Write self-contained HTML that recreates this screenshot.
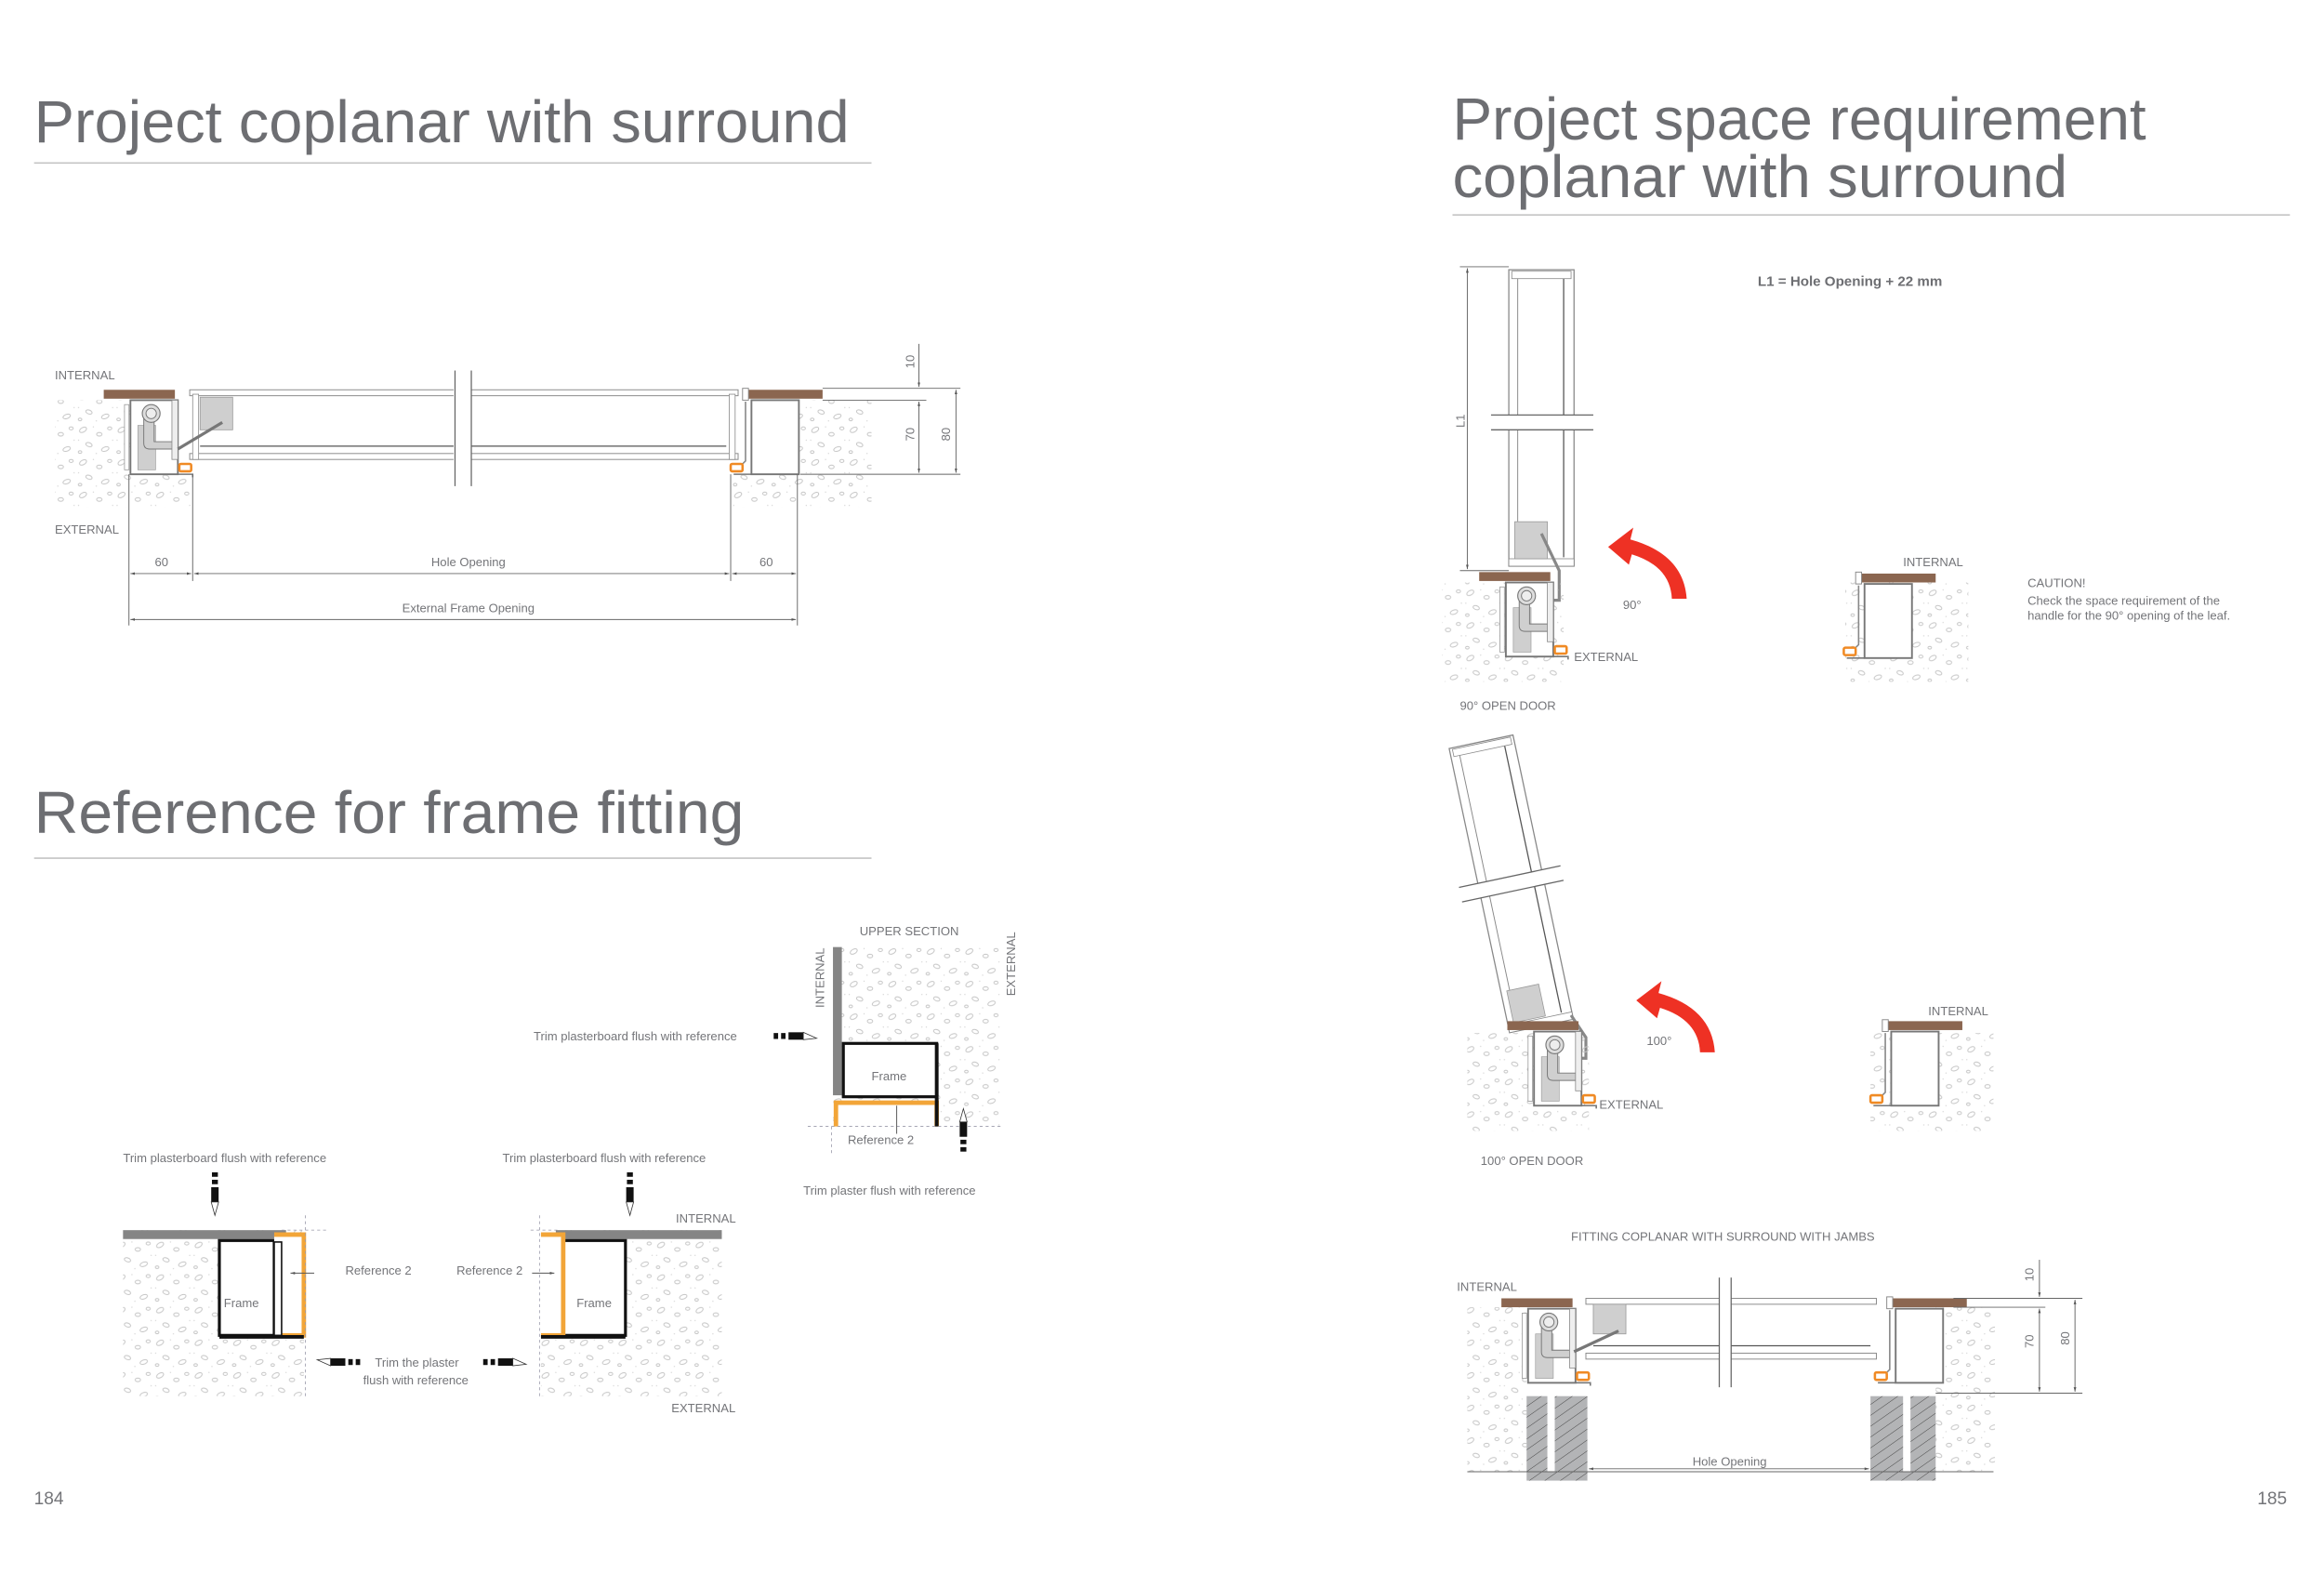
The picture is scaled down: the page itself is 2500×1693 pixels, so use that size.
<!DOCTYPE html>
<html><head><meta charset="utf-8"><style>
html,body{margin:0;padding:0;background:#fff}
svg{display:block}
text{font-family:"Liberation Sans",sans-serif;fill:#747579}
.t{font-size:8.2px}
.h{font-size:40px;fill:#6d6e72}
</style></head><body>
<svg width="2500" height="1693" viewBox="0 0 1568 1062" preserveAspectRatio="none" xmlns="http://www.w3.org/2000/svg">
<defs>
<pattern id="conc" width="26" height="22" patternUnits="userSpaceOnUse">
<g fill="none" stroke="#c4c4c4" stroke-width="0.6">
<ellipse cx="4" cy="4" rx="2.6" ry="1.5" transform="rotate(-30 4 4)"/>
<ellipse cx="15" cy="7" rx="1.8" ry="1.2"/>
<ellipse cx="22" cy="3" rx="1.4" ry="1"/>
<ellipse cx="8" cy="14" rx="2.2" ry="1.3" transform="rotate(20 8 14)"/>
<ellipse cx="19" cy="17" rx="2.6" ry="1.4" transform="rotate(-20 19 17)"/>
<ellipse cx="2" cy="19" rx="1.2" ry="0.9"/>
</g>
<g fill="#cfcfcf"><circle cx="11" cy="2" r="0.4"/><circle cx="24" cy="11" r="0.4"/><circle cx="13" cy="20" r="0.4"/><circle cx="1" cy="11" r="0.4"/></g>
</pattern>
<pattern id="hatch" width="6" height="6" patternUnits="userSpaceOnUse" patternTransform="rotate(55)">
<rect width="6" height="6" fill="#b3b4b6"/><line x1="0" y1="0" x2="0" y2="6" stroke="#444" stroke-width="0.6"/>
</pattern>
<g id="hingeL">
<rect x="-18" y="0" width="48" height="6" fill="#8b6650"/>
<rect x="0" y="7" width="32" height="50" fill="#fff" stroke="#777" stroke-width="1.2"/>
<rect x="-4" y="10" width="3" height="44" fill="#fff" stroke="#999" stroke-width="0.5"/>
<rect x="5" y="24" width="12" height="30" fill="#cfcfcf" stroke="#999" stroke-width="0.4"/>
<path d="M9 16 v20 q0 4 4 4 h16 v-5 h-13 v-14 z" fill="#cfcfcf" stroke="#777" stroke-width="0.6"/>
<circle cx="14" cy="16" r="6" fill="#ddd" stroke="#777" stroke-width="0.7"/>
<circle cx="14" cy="16" r="3.5" fill="#eee" stroke="#777" stroke-width="0.6"/>
<rect x="28" y="7" width="4" height="40" fill="#eee" stroke="#888" stroke-width="0.5"/>
<rect x="33" y="50" width="8" height="5" rx="1" fill="#fff" stroke="#f08a24" stroke-width="1.6"/>
<path d="M32 57 h10 v2" fill="none" stroke="#777" stroke-width="1"/>
</g>
<g id="frameR">
<rect x="0" y="0" width="50" height="6" fill="#8b6650"/>
<rect x="-4" y="-1" width="4" height="8" fill="#fff" stroke="#888" stroke-width="0.6"/>
<rect x="2" y="7" width="32" height="50" fill="#fff" stroke="#777" stroke-width="1.2"/>
<path d="M-2 8 v40 l-3 3 v4" fill="none" stroke="#888" stroke-width="1"/>
<rect x="-12" y="50" width="8" height="5" rx="1" fill="#fff" stroke="#f08a24" stroke-width="1.6"/>
<path d="M-10 57 h12" stroke="#777" stroke-width="1"/>
</g>
<g id="pencilV">
<rect x="-2" y="0" width="4" height="3" fill="#111"/><rect x="-2" y="5" width="4" height="3" fill="#111"/><rect x="-2.5" y="10" width="5" height="10" fill="#111"/>
<path d="M-2.5 20 h5 l-2.5 9 z" fill="#fff" stroke="#333" stroke-width="0.5"/>
</g>
<g id="pencilH">
<rect x="0" y="-2" width="3" height="4" fill="#111"/><rect x="5" y="-2" width="3" height="4" fill="#111"/><rect x="10" y="-2.5" width="10" height="5" fill="#111"/>
<path d="M20 -2.5 v5 l9 -1 z" fill="#fff" stroke="#333" stroke-width="0.5"/>
</g>
<marker id="ar" viewBox="0 0 10 10" refX="10" refY="5" markerWidth="5" markerHeight="5" orient="auto-start-reverse"><path d="M0 2 L10 5 L0 8 z" fill="#555"/></marker>
</defs>

<text class="h" x="23" y="96" textLength="550" lengthAdjust="spacingAndGlyphs">Project coplanar with surround</text>
<line x1="23" y1="110" x2="588" y2="110" stroke="#c4c4c4" stroke-width="1"/>
<text class="h" x="23" y="562" textLength="479" lengthAdjust="spacingAndGlyphs">Reference for frame fitting</text>
<line x1="23" y1="579" x2="588" y2="579" stroke="#c4c4c4" stroke-width="1"/>
<text class="h" x="980" y="94" textLength="468" lengthAdjust="spacingAndGlyphs">Project space requirement</text>
<text class="h" x="980" y="133" textLength="415" lengthAdjust="spacingAndGlyphs">coplanar with surround</text>
<line x1="980" y1="145" x2="1545" y2="145" stroke="#c4c4c4" stroke-width="1"/>

<text class="t" x="37" y="256">INTERNAL</text>
<text class="t" x="37" y="360">EXTERNAL</text>
<rect x="37" y="270" width="51" height="72" fill="url(#conc)"/>
<rect x="88" y="320" width="42" height="22" fill="url(#conc)"/>
<rect x="538" y="270" width="50" height="72" fill="url(#conc)"/>
<rect x="493" y="320" width="45" height="22" fill="url(#conc)"/>
<use href="#hingeL" x="88" y="263"/>
<use href="#frameR" x="505" y="263"/>
<rect x="128" y="263" width="370" height="4" fill="#fff" stroke="#888" stroke-width="0.6"/>
<rect x="128" y="306" width="370" height="4" fill="#fff" stroke="#888" stroke-width="0.6"/>
<rect x="130" y="266" width="4" height="44" fill="#fff" stroke="#888" stroke-width="0.5"/>
<rect x="492" y="266" width="4" height="44" fill="#fff" stroke="#888" stroke-width="0.5"/>
<line x1="135" y1="301" x2="490" y2="301" stroke="#555" stroke-width="0.8"/>
<rect x="135" y="268" width="22" height="22" fill="#cfcfcf" stroke="#999" stroke-width="0.5"/>
<path d="M120 303 l30 -18" stroke="#777" stroke-width="2" fill="none"/>
<rect x="306" y="250" width="12" height="78" fill="#fff"/>
<line x1="307" y1="250" x2="307" y2="328" stroke="#666" stroke-width="0.8"/>
<line x1="318" y1="250" x2="318" y2="328" stroke="#666" stroke-width="0.8"/>
<g stroke="#666" stroke-width="0.6" fill="none">
<line x1="87" y1="320" x2="87" y2="422"/><line x1="130" y1="320" x2="130" y2="392"/>
<line x1="493" y1="320" x2="493" y2="392"/><line x1="538" y1="320" x2="538" y2="422"/>
<line x1="88" y1="387" x2="129" y2="387" marker-start="url(#ar)" marker-end="url(#ar)"/>
<line x1="131" y1="387" x2="492" y2="387" marker-start="url(#ar)" marker-end="url(#ar)"/>
<line x1="494" y1="387" x2="537" y2="387" marker-start="url(#ar)" marker-end="url(#ar)"/>
<line x1="88" y1="418" x2="537" y2="418" marker-start="url(#ar)" marker-end="url(#ar)"/>
<line x1="555" y1="262" x2="648" y2="262"/><line x1="555" y1="270" x2="625" y2="270"/><line x1="540" y1="320" x2="648" y2="320"/>
<line x1="620" y1="232" x2="620" y2="261" marker-end="url(#ar)"/>
<line x1="620" y1="271" x2="620" y2="319" marker-start="url(#ar)" marker-end="url(#ar)"/>
<line x1="645" y1="263" x2="645" y2="319" marker-start="url(#ar)" marker-end="url(#ar)"/>
</g>
<text class="t" x="109" y="382" text-anchor="middle">60</text>
<text class="t" x="316" y="382" text-anchor="middle">Hole Opening</text>
<text class="t" x="517" y="382" text-anchor="middle">60</text>
<text class="t" x="316" y="413" text-anchor="middle">External Frame Opening</text>
<text class="t" transform="translate(617 244) rotate(-90)" text-anchor="middle">10</text>
<text class="t" transform="translate(617 293) rotate(-90)" text-anchor="middle">70</text>
<text class="t" transform="translate(641 293) rotate(-90)" text-anchor="middle">80</text>

<text class="t" x="83" y="784">Trim plasterboard flush with reference</text>
<use href="#pencilV" x="145" y="791"/>
<rect x="83" y="830" width="122" height="112" fill="url(#conc)"/>
<rect x="83" y="830" width="110" height="6" fill="#858585"/>
<rect x="148" y="837" width="37" height="64" fill="#fff" stroke="#111" stroke-width="2"/>
<path d="M185 833 h20 v68 h-20" fill="#fff" stroke="#f2a538" stroke-width="3"/>
<rect x="185" y="838" width="5" height="63" fill="#fff" stroke="#111" stroke-width="1"/>
<line x1="148" y1="902" x2="205" y2="902" stroke="#111" stroke-width="2.5"/>
<line x1="206" y1="820" x2="206" y2="942" stroke="#99a" stroke-width="0.5" stroke-dasharray="2 2"/>
<line x1="190" y1="830" x2="220" y2="830" stroke="#99a" stroke-width="0.5" stroke-dasharray="2 2"/>
<line x1="212" y1="859" x2="196" y2="859" stroke="#555" stroke-width="0.6" marker-end="url(#ar)"/>
<text class="t" x="151" y="882">Frame</text>
<text class="t" x="233" y="860">Reference 2</text>
<text class="t" x="308" y="860">Reference 2</text>
<text class="t" x="253" y="922">Trim the plaster</text>
<text class="t" x="245" y="934">flush with reference</text>
<use href="#pencilH" x="243" y="919" transform="rotate(180 243 919)"/>
<use href="#pencilH" x="326" y="919"/>
<text class="t" x="339" y="784">Trim plasterboard flush with reference</text>
<use href="#pencilV" x="425" y="791"/>
<rect x="365" y="830" width="122" height="112" fill="url(#conc)"/>
<rect x="375" y="830" width="112" height="6" fill="#858585"/>
<rect x="380" y="837" width="42" height="64" fill="#fff" stroke="#111" stroke-width="2"/>
<path d="M365 833 h15 v68 h-15" fill="#fff" stroke="#f2a538" stroke-width="3"/>
<line x1="365" y1="902" x2="422" y2="902" stroke="#111" stroke-width="2.5"/>
<line x1="364" y1="820" x2="364" y2="942" stroke="#99a" stroke-width="0.5" stroke-dasharray="2 2"/>
<line x1="358" y1="830" x2="378" y2="830" stroke="#99a" stroke-width="0.5" stroke-dasharray="2 2"/>
<line x1="359" y1="859" x2="374" y2="859" stroke="#555" stroke-width="0.6" marker-end="url(#ar)"/>
<text class="t" x="389" y="882">Frame</text>
<text class="t" x="456" y="825">INTERNAL</text>
<text class="t" x="453" y="953">EXTERNAL</text>
<text class="t" x="580" y="631">UPPER SECTION</text>
<text class="t" transform="translate(556 680) rotate(-90)">INTERNAL</text>
<text class="t" transform="translate(685 672) rotate(-90)">EXTERNAL</text>
<rect x="562" y="639" width="114" height="121" fill="url(#conc)"/>
<rect x="562" y="639" width="6" height="100" fill="#858585"/>
<rect x="569" y="704" width="63" height="36" fill="#fff" stroke="#111" stroke-width="2"/>
<path d="M564 760 v-16 h68 v16" fill="#fff" stroke="#f2a538" stroke-width="3"/>
<line x1="632" y1="704" x2="632" y2="760" stroke="#111" stroke-width="2.5"/>
<line x1="545" y1="760" x2="676" y2="760" stroke="#99a" stroke-width="0.5" stroke-dasharray="2 2"/>
<line x1="561" y1="760" x2="561" y2="780" stroke="#99a" stroke-width="0.5" stroke-dasharray="2 2"/>
<line x1="605" y1="765" x2="605" y2="746" stroke="#555" stroke-width="0.6"/>
<text class="t" x="588" y="729">Frame</text>
<text class="t" x="572" y="772">Reference 2</text>
<text class="t" x="360" y="702">Trim plasterboard flush with reference</text>
<use href="#pencilH" x="522" y="699"/>
<use href="#pencilV" x="650" y="797" transform="rotate(180 650 787)"/>
<text class="t" x="542" y="806">Trim plaster flush with reference</text>

<text x="23" y="1015" style="font-size:12px">184</text>
<text x="1523" y="1015" style="font-size:12px">185</text>

<text x="1186" y="193" style="font-size:9.5px;font-weight:bold;fill:#6d6e72">L1 = Hole Opening + 22 mm</text>
<g stroke="#666" stroke-width="0.6" fill="none">
<line x1="985" y1="180" x2="1018" y2="180"/><line x1="985" y1="385" x2="1018" y2="385"/>
<line x1="990" y1="181" x2="990" y2="384" marker-start="url(#ar)" marker-end="url(#ar)"/>
</g>
<text class="t" transform="translate(988 284) rotate(-90)" text-anchor="middle">L1</text>
<rect x="1018" y="182" width="44" height="200" fill="#fff" stroke="#888" stroke-width="0.8"/>
<line x1="1024" y1="188" x2="1024" y2="376" stroke="#888" stroke-width="0.6"/>
<line x1="1055" y1="188" x2="1055" y2="376" stroke="#555" stroke-width="0.8"/>
<rect x="1020" y="183" width="40" height="5" fill="#fff" stroke="#888" stroke-width="0.5"/>
<rect x="1018" y="377" width="44" height="5" fill="#fff" stroke="#888" stroke-width="0.5"/>
<rect x="1005" y="280" width="70" height="10" fill="#fff"/>
<line x1="1006" y1="280" x2="1075" y2="280" stroke="#666" stroke-width="0.8"/>
<line x1="1006" y1="290" x2="1075" y2="290" stroke="#666" stroke-width="0.8"/>
<rect x="1022" y="352" width="22" height="25" fill="#cfcfcf" stroke="#999" stroke-width="0.5"/>
<path d="M1040 360 l12 25 v20 h-12" fill="none" stroke="#888" stroke-width="2"/>
<rect x="973" y="393" width="82" height="67" fill="url(#conc)"/>
<use href="#hingeL" x="1016" y="386"/>
<path d="M1138 404 q-2 -30 -38 -40 l2 -8 l-17 13 l14 12 l2 -7 q26 8 27 30 z" fill="#ee3124"/>
<text class="t" x="1095" y="411">90°</text>
<text class="t" x="1062" y="446">EXTERNAL</text>
<text class="t" x="985" y="479">90° OPEN DOOR</text>
<text class="t" x="1284" y="382">INTERNAL</text>
<rect x="1245" y="393" width="83" height="67" fill="url(#conc)"/>
<use href="#frameR" x="1256" y="387"/>
<text class="t" x="1368" y="396">CAUTION!</text>
<text class="t" x="1368" y="408">Check the space requirement of the</text>
<text class="t" x="1368" y="418">handle for the 90° opening of the leaf.</text>

<g transform="rotate(-12 1060 690)">
<rect x="1018" y="492" width="44" height="196" fill="#fff" stroke="#888" stroke-width="0.8"/>
<line x1="1024" y1="498" x2="1024" y2="682" stroke="#888" stroke-width="0.6"/>
<line x1="1055" y1="498" x2="1055" y2="682" stroke="#555" stroke-width="0.8"/>
<rect x="1020" y="493" width="40" height="5" fill="#fff" stroke="#888" stroke-width="0.5"/>
<rect x="1018" y="683" width="44" height="5" fill="#fff" stroke="#888" stroke-width="0.5"/>
<rect x="1004" y="585" width="72" height="10" fill="#fff"/>
<line x1="1005" y1="585" x2="1075" y2="585" stroke="#666" stroke-width="0.8"/>
<line x1="1005" y1="595" x2="1075" y2="595" stroke="#666" stroke-width="0.8"/>
<rect x="1022" y="660" width="22" height="22" fill="#cfcfcf" stroke="#999" stroke-width="0.5"/>
</g>
<path d="M1060 685 l10 15 v14 h-14" fill="none" stroke="#888" stroke-width="2"/>
<rect x="990" y="697" width="82" height="66" fill="url(#conc)"/>
<use href="#hingeL" x="1035" y="689"/>
<path d="M1157 710 q-2 -30 -38 -40 l2 -8 l-17 13 l14 12 l2 -7 q26 8 27 30 z" fill="#ee3124"/>
<text class="t" x="1111" y="705">100°</text>
<text class="t" x="1079" y="748">EXTERNAL</text>
<text class="t" x="999" y="786">100° OPEN DOOR</text>
<text class="t" x="1301" y="685">INTERNAL</text>
<rect x="1262" y="697" width="83" height="66" fill="url(#conc)"/>
<use href="#frameR" x="1274" y="689"/>

<text class="t" x="1060" y="837">FITTING COPLANAR WITH SURROUND WITH JAMBS</text>
<text class="t" x="983" y="871">INTERNAL</text>
<rect x="990" y="882" width="40" height="111" fill="url(#conc)"/>
<rect x="1306" y="882" width="40" height="111" fill="url(#conc)"/>
<rect x="1030" y="942" width="14" height="51" fill="url(#hatch)"/>
<rect x="1049" y="942" width="22" height="51" fill="url(#hatch)"/>
<rect x="1030" y="993" width="41" height="6" fill="url(#hatch)"/>
<rect x="1262" y="942" width="22" height="51" fill="url(#hatch)"/>
<rect x="1289" y="942" width="17" height="51" fill="url(#hatch)"/>
<rect x="1262" y="993" width="44" height="6" fill="url(#hatch)"/>
<use href="#hingeL" x="1031" y="876"/>
<use href="#frameR" x="1277" y="876"/>
<rect x="1070" y="876" width="196" height="4" fill="#fff" stroke="#888" stroke-width="0.6"/>
<rect x="1070" y="913" width="196" height="4" fill="#fff" stroke="#888" stroke-width="0.6"/>
<line x1="1075" y1="908" x2="1262" y2="908" stroke="#555" stroke-width="0.8"/>
<rect x="1075" y="880" width="22" height="20" fill="#cfcfcf" stroke="#999" stroke-width="0.5"/>
<path d="M1062 912 l30 -14" stroke="#777" stroke-width="2" fill="none"/>
<rect x="1160" y="862" width="8" height="74" fill="#fff"/>
<line x1="1160" y1="862" x2="1160" y2="936" stroke="#666" stroke-width="0.8"/>
<line x1="1168" y1="862" x2="1168" y2="936" stroke="#666" stroke-width="0.8"/>
<g stroke="#666" stroke-width="0.6" fill="none">
<line x1="1318" y1="876" x2="1405" y2="876"/><line x1="1318" y1="882" x2="1380" y2="882"/><line x1="1306" y1="940" x2="1405" y2="940"/>
<line x1="1376" y1="850" x2="1376" y2="875" marker-end="url(#ar)"/>
<line x1="1376" y1="883" x2="1376" y2="939" marker-start="url(#ar)" marker-end="url(#ar)"/>
<line x1="1400" y1="877" x2="1400" y2="939" marker-start="url(#ar)" marker-end="url(#ar)"/>
<line x1="990" y1="993" x2="1345" y2="993"/>
<line x1="1072" y1="991" x2="1261" y2="991" marker-start="url(#ar)" marker-end="url(#ar)"/>
</g>
<text class="t" transform="translate(1372 860) rotate(-90)" text-anchor="middle">10</text>
<text class="t" transform="translate(1372 905) rotate(-90)" text-anchor="middle">70</text>
<text class="t" transform="translate(1396 903) rotate(-90)" text-anchor="middle">80</text>
<text class="t" x="1167" y="989" text-anchor="middle">Hole Opening</text>
</svg>
</body></html>
